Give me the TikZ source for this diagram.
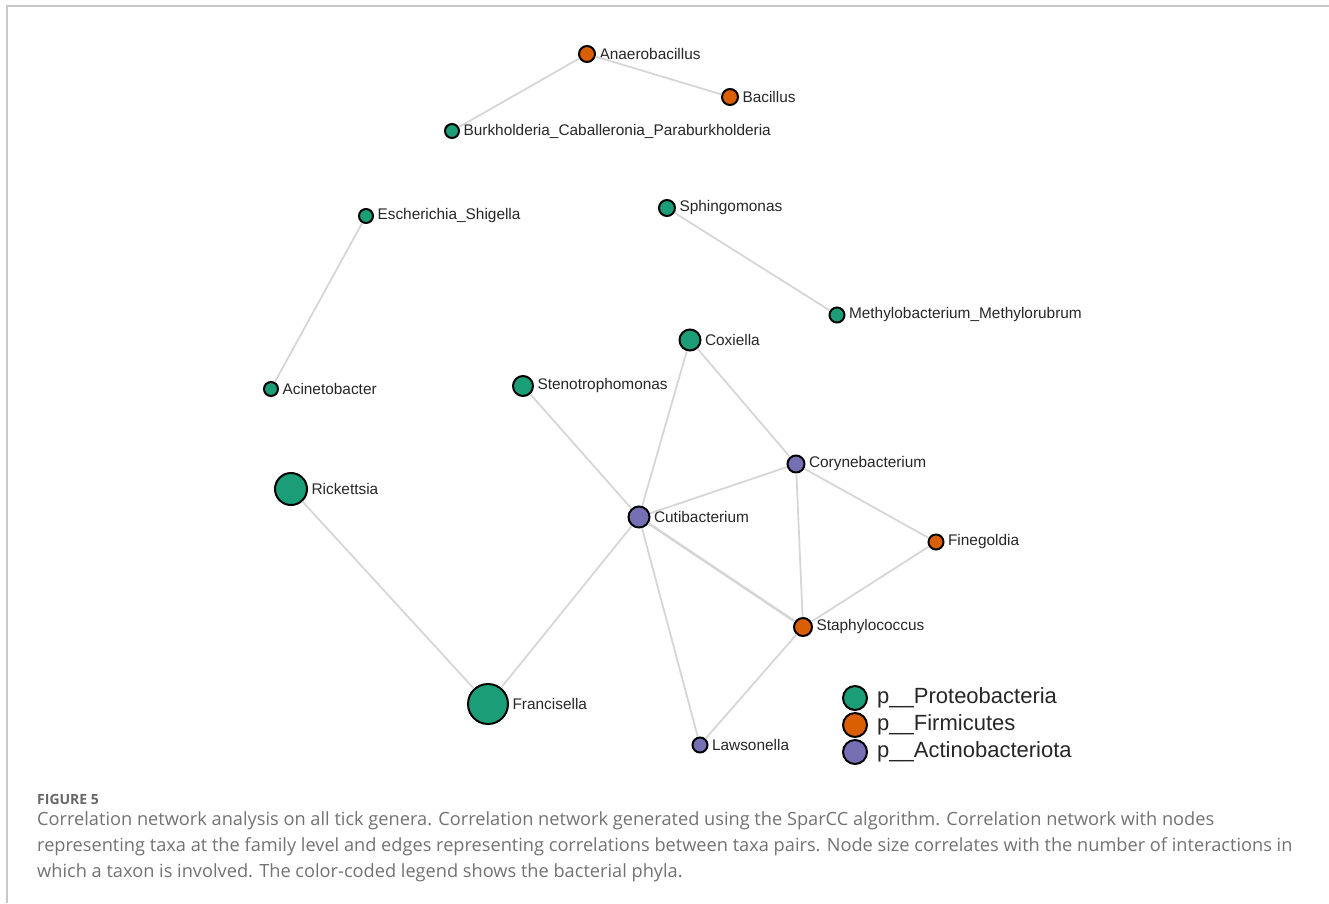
\documentclass[tikz,border=0pt]{standalone}
\usepackage{fontspec}
\setmainfont{Liberation Sans}
\newfontfamily\capfont{Open Sans}
\usetikzlibrary{positioning}

\definecolor{proteo}{HTML}{1B9E77}
\definecolor{firmi}{HTML}{D95F02}
\definecolor{actino}{HTML}{7570B3}
\definecolor{edgegray}{HTML}{D6D6D6}
\definecolor{framegray}{HTML}{C8C8C8}
\definecolor{captext}{HTML}{727272}

\tikzset{
  taxon/.style={circle, draw=black, line width=2pt, inner sep=0pt, minimum size=#1},
  pro/.style={taxon=#1, fill=proteo},
  fir/.style={taxon=#1, fill=firmi},
  act/.style={taxon=#1, fill=actino},
  tag/.style={font=\fontsize{15.4}{17}\selectfont, text=black!85, label distance=0pt},
  link/.style={draw=edgegray, line width=1.8pt},
  legtext/.style={font=\fontsize{22}{24}\selectfont, text=black!85, anchor=west, inner sep=0pt},
  capline/.style={anchor=base west, inner sep=0pt, text=captext, font=\capfont\fontsize{18.2}{22}\selectfont},
}

\begin{document}
\begin{tikzpicture}[x=1pt, y=-1pt]
\useasboundingbox (0,0) rectangle (1329,903);

% frame
\draw[framegray, line width=1.4pt] (7,903) -- (7,6) -- (1329,6);

% taxa
\node[fir=16pt, label={[tag]right:Anaerobacillus}] (anaero) at (587,54) {};
\node[fir=16pt, label={[tag]right:Bacillus}] (bacil) at (730,97) {};
\node[pro=14pt, label={[tag]right:Burkholderia\_Caballeronia\_Paraburkholderia}] (burk) at (452,131) {};
\node[pro=14pt, label={[tag]right:Escherichia\_Shigella}] (esch) at (366,216) {};
\node[pro=16pt, label={[tag]right:Sphingomonas}] (sphingo) at (667,208) {};
\node[pro=15pt, label={[tag]right:Methylobacterium\_Methylorubrum}] (methylo) at (837,315) {};
\node[pro=14pt, label={[tag]right:Acinetobacter}] (acineto) at (271,389) {};
\node[pro=21pt, label={[tag]right:Coxiella}] (coxi) at (690,340) {};
\node[pro=20pt, label={[tag]right:Stenotrophomonas}] (steno) at (523,386) {};
\node[act=17pt, label={[tag]right:Corynebacterium}] (coryne) at (796,464) {};
\node[pro=32pt, label={[tag]right:Rickettsia}] (ricket) at (291,489) {};
\node[act=21pt, label={[tag]right:Cutibacterium}] (cuti) at (639,517) {};
\node[fir=15pt, label={[tag]right:Finegoldia}] (fine) at (936,542) {};
\node[fir=18pt, label={[tag]right:Staphylococcus}] (staph) at (803,627) {};
\node[pro=40pt, label={[tag]right:Francisella}] (franc) at (488,704) {};
\node[act=15pt, label={[tag]right:Lawsonella}] (lawso) at (700,745) {};

% correlations
\draw[link] (anaero) -- (bacil);
\draw[link] (anaero) -- (burk);
\draw[link] (esch) -- (acineto);
\draw[link] (sphingo) -- (methylo);
\draw[link] (coxi) -- (cuti);
\draw[link] (coxi) -- (coryne);
\draw[link] (steno) -- (cuti);
\draw[link] (cuti) -- (coryne);
\draw[link, line width=2.6pt] (cuti) -- (staph);
\draw[link] (cuti) -- (franc);
\draw[link] (cuti) -- (lawso);
\draw[link] (coryne) -- (staph);
\draw[link] (coryne) -- (fine);
\draw[link] (fine) -- (staph);
\draw[link] (staph) -- (lawso);
\draw[link] (ricket) -- (franc);

% legend
\node[pro=24pt] (lpro) at (855,698) {};
\node[fir=24pt, below=1pt of lpro] (lfir) {};
\node[act=24pt, below=1pt of lfir] (lact) {};
\node[legtext, right=9pt of lpro] (tpro) {p\_\_Proteobacteria};
\node[legtext, right=9pt of lfir] (tfir) {p\_\_Firmicutes};
\node[legtext, right=9pt of lact] (tact) {p\_\_Actinobacteriota};

% caption
\node[anchor=base west, inner sep=0pt, text=captext!90!black, font=\capfont\bfseries\fontsize{14}{16}\selectfont] (fig) at (37,804) {FIGURE 5};
\node[capline] (cap1) at (37,825) {Correlation network analysis on all tick genera. Correlation network generated using the SparCC algorithm. Correlation network with nodes};
\node[capline] (cap2) at (37,851) {representing taxa at the family level and edges representing correlations between taxa pairs. Node size correlates with the number of interactions in};
\node[capline] (cap3) at (37,877) {which a taxon is involved. The color-coded legend shows the bacterial phyla.};
\end{tikzpicture}
\end{document}
